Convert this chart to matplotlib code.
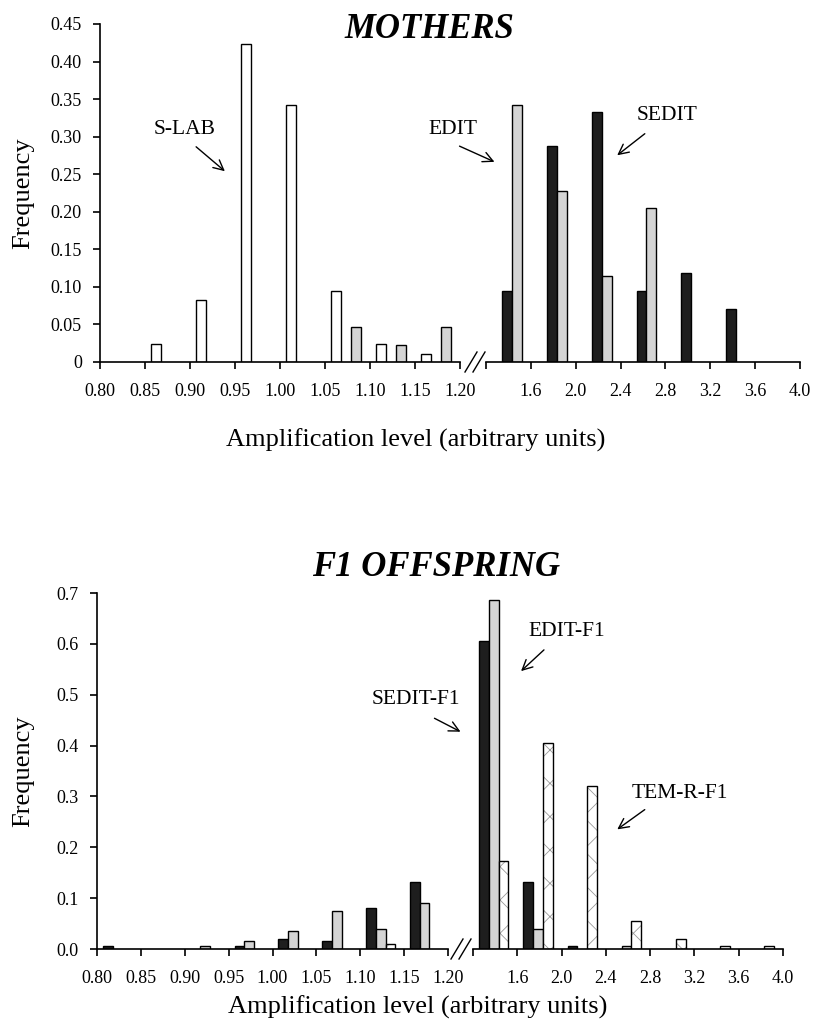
import numpy as np
import matplotlib
matplotlib.use('Agg')
import matplotlib.pyplot as plt

plt.rcParams['font.family'] = ['Liberation Serif', 'DejaVu Serif']
plt.rcParams['hatch.linewidth'] = 0.6

# bin lower edges (amplification level)
left_bins = [0.80, 0.85, 0.90, 0.95, 1.00, 1.05, 1.10, 1.15]
right_bins = [1.2, 1.6, 2.0, 2.4, 2.8, 3.2, 3.6]

# MOTHERS
slab_left = [0, 0.024, 0.082, 0.424, 0.342, 0.095, 0.024, 0.011]
sedit_left = [0, 0, 0, 0, 0, 0, 0, 0]
edit_left = [0, 0, 0, 0, 0, 0.046, 0.022, 0.046]
slab_right = [0, 0, 0, 0, 0, 0, 0]
sedit_right = [0.095, 0.287, 0.333, 0.095, 0.119, 0.071, 0]
edit_right = [0.342, 0.227, 0.115, 0.205, 0, 0, 0]

# F1 OFFSPRING
sedit_f1_left = [0.005, 0, 0, 0.005, 0.020, 0.015, 0.080, 0.132]
edit_f1_left = [0, 0, 0.005, 0.015, 0.035, 0.075, 0.040, 0.090]
temr_f1_left = [0, 0, 0, 0, 0, 0, 0.010, 0]
sedit_f1_right = [0.605, 0.132, 0.005, 0, 0, 0, 0]
edit_f1_right = [0.686, 0.040, 0, 0.005, 0, 0, 0]
temr_f1_right = [0.173, 0.406, 0.320, 0.055, 0.020, 0.005, 0.005]

left_labels = ['0.80', '0.85', '0.90', '0.95', '1.00', '1.05', '1.10', '1.15', '1.20']
right_ticks = [1.2, 1.6, 2.0, 2.4, 2.8, 3.2, 3.6, 4.0]
right_labels = ['', '1.6', '2.0', '2.4', '2.8', '3.2', '3.6', '4.0']

BLACK = '#1e1e1e'
GRAY = '#d4d4d4'
W = 818
H = 1024


def fig_rect(x0, x1, ytop, ybot):
    return [x0 / W, 1 - ybot / H, (x1 - x0) / W, (ybot - ytop) / H]


def draw_bars(ax, bins, bw, series):
    # series: list of (values, style) in slot order
    lo = np.array(bins)
    for k, (vals, style) in enumerate(series):
        x = lo + (0.245 + k * 0.222) * bw
        vals = np.array(vals, dtype=float)
        m = vals > 0
        if style == 'hatch':
            ax.bar(x[m], vals[m], width=0.222 * bw, color='white', edgecolor='#999999',
                   hatch='x', linewidth=0, zorder=2)
            ax.bar(x[m], vals[m], width=0.222 * bw, fill=False, edgecolor='black',
                   linewidth=1.0, zorder=3)
        else:
            ax.bar(x[m], vals[m], width=0.222 * bw, color=style, edgecolor='black',
                   linewidth=1.0, zorder=2)


def setup(axl, axr, ymax, yticks, ylabels, x_axis_px, w_px):
    for ax in (axl, axr):
        ax.set_ylim(0, ymax)
        ax.spines['top'].set_visible(False)
        ax.spines['right'].set_visible(False)
        ax.tick_params(axis='x', direction='out', length=5, width=1.2, labelsize=13, pad=10)
    axr.spines['left'].set_visible(False)
    axr.set_yticks([])
    axl.set_xlim(0.80, 1.20)
    axr.set_xlim(1.2, 4.0)
    axl.set_xticks(np.linspace(0.80, 1.20, 9))
    axl.set_xticklabels(left_labels)
    axr.set_xticks(right_ticks)
    axr.set_xticklabels(right_labels)
    axl.set_yticks(yticks)
    axl.set_yticklabels(ylabels)
    axl.tick_params(axis='y', direction='out', length=5, width=1.2, labelsize=13, pad=8)
    for s in ('left', 'bottom'):
        axl.spines[s].set_linewidth(1.2)
    axr.spines['bottom'].set_linewidth(1.2)
    axl.set_ylabel('Frequency', fontsize=19)
    axl.yaxis.set_label_coords((34 - x_axis_px) / w_px, 0.5)


def break_marks(x, y):
    for dx in (0, 8):
        fig.add_artist(plt.Line2D([(x + dx) / W, (x + dx + 12) / W],
                                  [1 - (y + 10) / H, 1 - (y - 10) / H],
                                  color='black', lw=1.0))


fig = plt.figure(figsize=(8.18, 10.24), dpi=100)

# ---- MOTHERS ----
ax1l = fig.add_axes(fig_rect(100, 460, 24, 362))
ax1r = fig.add_axes(fig_rect(486, 800, 24, 362))
draw_bars(ax1l, left_bins, 0.05, [(slab_left, 'white'), (sedit_left, BLACK), (edit_left, GRAY)])
draw_bars(ax1r, right_bins, 0.4, [(slab_right, 'white'), (sedit_right, BLACK), (edit_right, GRAY)])
setup(ax1l, ax1r, 0.45, np.arange(0, 0.451, 0.05),
      ['0', '0.05', '0.10', '0.15', '0.20', '0.25', '0.30', '0.35', '0.40', '0.45'], 100, 360)
break_marks(465, 362)
fig.text(429 / W, 1 - 29 / H, 'MOTHERS', fontsize=25, fontweight='bold', fontstyle='italic',
         ha='center', va='center')
fig.text(416 / W, 1 - 440 / H, 'Amplification level (arbitrary units)', fontsize=19,
         ha='center', va='center')

# ---- F1 OFFSPRING ----
ax2l = fig.add_axes(fig_rect(97, 448, 593, 949))
ax2r = fig.add_axes(fig_rect(473, 783, 593, 949))
draw_bars(ax2l, left_bins, 0.05, [(sedit_f1_left, BLACK), (edit_f1_left, GRAY), (temr_f1_left, 'hatch')])
draw_bars(ax2r, right_bins, 0.4, [(sedit_f1_right, BLACK), (edit_f1_right, GRAY), (temr_f1_right, 'hatch')])
setup(ax2l, ax2r, 0.7, np.arange(0, 0.71, 0.1),
      ['0.0', '0.1', '0.2', '0.3', '0.4', '0.5', '0.6', '0.7'], 97, 351)
break_marks(451, 949)
fig.text(436 / W, 1 - 568 / H, 'F1 OFFSPRING', fontsize=25, fontweight='bold', fontstyle='italic',
         ha='center', va='center')
fig.text(418 / W, 1 - 1007 / H, 'Amplification level (arbitrary units)', fontsize=19,
         ha='center', va='center')

# ---- annotations ----
def note(text, tx, ty, x0, y0, x1, y1):
    fig.text(tx / W, 1 - ty / H, text, fontsize=15.5, ha='center', va='center')
    fig.add_artist(matplotlib.patches.FancyArrowPatch(
        (x0 / W, 1 - y0 / H), (x1 / W, 1 - y1 / H), transform=fig.transFigure,
        arrowstyle='->', mutation_scale=18, lw=1.0, color='black'))

note('S-LAB', 185, 130, 194, 145, 227, 173)
note('EDIT', 453, 130, 457, 145, 497, 163)
note('SEDIT', 667, 116, 647, 132, 615, 157)
note('SEDIT-F1', 416, 700, 432, 717, 463, 733)
note('EDIT-F1', 567, 631, 546, 648, 519, 673)
note('TEM-R-F1', 680, 794, 647, 808, 615, 831)

fig.savefig('out.png', dpi=100)
